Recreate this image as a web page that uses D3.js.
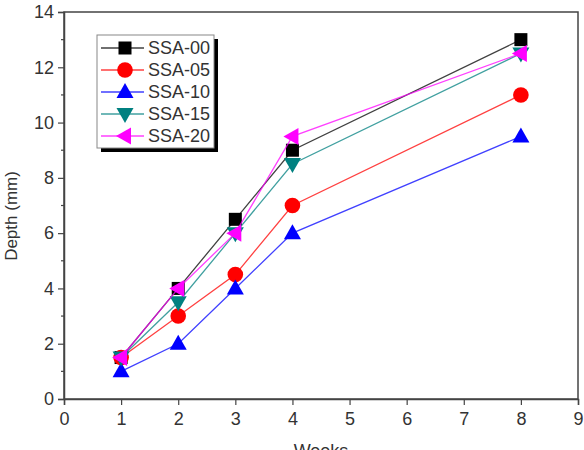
<!DOCTYPE html>
<html>
<head>
<meta charset="utf-8">
<script src="https://cdnjs.cloudflare.com/ajax/libs/d3/7.8.5/d3.min.js"></script>
<style>
  body { margin: 0; background: #fff; }
  text { font-family: "Liberation Sans", Arial, sans-serif; fill: #333; }
</style>
</head>
<body>
<div id="chart"></div>
<script>
// data
var weeks = [1, 2, 3, 4, 8];
var seriesNames = ["SSA-00", "SSA-05", "SSA-10", "SSA-15", "SSA-20"];
var ssa00 = [1.5, 4, 6.5, 9, 13];
var ssa05 = [1.5, 3, 4.5, 7, 11];
var ssa10 = [1, 2, 4, 6, 9.5];
var ssa15 = [1.5, 3.5, 6, 8.5, 12.5];
var ssa20 = [1.5, 4, 6, 9.5, 12.5];
var xTicks = [0, 1, 2, 3, 4, 5, 6, 7, 8, 9];
var yTicks = [0, 2, 4, 6, 8, 10, 12, 14];

var colors = ["#000000", "#ff0000", "#0000ff", "#008080", "#ff00ff"];
var symbols = ["square", "circle", "up", "down", "left"];
var allValues = [ssa00, ssa05, ssa10, ssa15, ssa20];

var width = 584, height = 450;
var margin = {left: 64, right: 6, top: 12, bottom: 51};

var svg = d3.select("#chart").append("svg")
    .attr("width", width)
    .attr("height", height);

var xScale = d3.scaleLinear().domain([0, 9]).range([margin.left, width - margin.right]);
var yScale = d3.scaleLinear().domain([0, 14]).range([height - margin.bottom, margin.top]);

// frame
svg.append("rect")
    .attr("x", xScale(0)).attr("y", yScale(14))
    .attr("width", xScale(9) - xScale(0))
    .attr("height", yScale(0) - yScale(14))
    .attr("fill", "none").attr("stroke", "#444").attr("stroke-width", 1.5);

// axes
var xAxis = d3.axisBottom(xScale).tickValues(xTicks).tickSize(6).tickPadding(7)
    .tickFormat(d3.format("d"));
var gx = svg.append("g")
    .attr("transform", "translate(0," + yScale(0) + ")")
    .call(xAxis);

var yAxis = d3.axisLeft(yScale).tickValues(yTicks).tickSize(6).tickPadding(4)
    .tickFormat(d3.format("d"));
var gy = svg.append("g")
    .attr("transform", "translate(" + xScale(0) + ",0)")
    .call(yAxis);

// minor y ticks
gy.selectAll(".minor")
    .data(d3.range(1, 14, 2))
    .enter().append("line")
    .attr("class", "minor")
    .attr("x1", -3).attr("x2", 0)
    .attr("y1", function(d) { return yScale(d); })
    .attr("y2", function(d) { return yScale(d); })
    .attr("stroke", "#444").attr("stroke-width", 1.2);

[gx, gy].forEach(function(g) {
    g.select(".domain").attr("stroke", "#444").attr("stroke-width", 1.5);
    g.selectAll(".tick line").attr("stroke", "#444").attr("stroke-width", 1.2);
    g.selectAll(".tick text").style("font-size", "18px").attr("fill", "#333");
});

// axis titles
svg.append("text")
    .attr("x", (xScale(0) + xScale(9)) / 2)
    .attr("y", 457)
    .attr("text-anchor", "middle")
    .style("font-size", "18px")
    .text("Weeks");

svg.append("text")
    .attr("transform", "translate(17,216) rotate(-90)")
    .attr("text-anchor", "middle")
    .style("font-size", "17px")
    .text("Depth (mm)");

// marker shape
function marker(g, type, color, cx, cy) {
    var w = 8.5, h = 7.5;
    if (type === "square") {
        g.append("rect").attr("x", cx - 6.5).attr("y", cy - 6.5)
            .attr("width", 13).attr("height", 13).attr("fill", color);
    } else if (type === "circle") {
        g.append("circle").attr("cx", cx).attr("cy", cy).attr("r", 7.8).attr("fill", color);
    } else {
        var pts;
        if (type === "up") pts = [[cx, cy - h - 1.5], [cx - w, cy + h - 1.5], [cx + w, cy + h - 1.5]];
        if (type === "down") pts = [[cx, cy + h + 1.5], [cx - w, cy - h + 1.5], [cx + w, cy - h + 1.5]];
        if (type === "left") pts = [[cx - h - 1.5, cy], [cx + h - 1.5, cy - w], [cx + h - 1.5, cy + w]];
        g.append("polygon").attr("points", pts.map(function(p) { return p.join(","); }).join(" "))
            .attr("fill", color);
    }
}

var line = d3.line()
    .x(function(d, i) { return xScale(weeks[i]); })
    .y(function(d) { return yScale(d); });

allValues.forEach(function(vals, k) {
    var g = svg.append("g");
    g.append("path").datum(vals)
        .attr("d", line)
        .attr("fill", "none")
        .attr("stroke", colors[k])
        .attr("stroke-width", 1.3)
        .attr("stroke-opacity", 0.75);
    vals.forEach(function(v, i) {
        marker(g, symbols[k], colors[k], xScale(weeks[i]), yScale(v));
    });
});

// legend
var lx = 97, ly = 35, lw = 117, lh = 113;
svg.append("rect").attr("x", lx + 4).attr("y", ly + 4)
    .attr("width", lw).attr("height", lh).attr("fill", "#000");
svg.append("rect").attr("x", lx).attr("y", ly)
    .attr("width", lw).attr("height", lh)
    .attr("fill", "#fff").attr("stroke", "#888").attr("stroke-width", 1);

seriesNames.forEach(function(name, k) {
    var y = 48 + k * 22;
    var g = svg.append("g");
    g.append("line").attr("x1", 101).attr("x2", 144).attr("y1", y).attr("y2", y)
        .attr("stroke", colors[k]).attr("stroke-width", 1.3).attr("stroke-opacity", 0.75);
    marker(g, symbols[k], colors[k], 125, y);
    g.append("text").attr("x", 148).attr("y", y).attr("dy", "0.36em")
        .style("font-size", "18px").text(name);
});
</script>
</body>
</html>
